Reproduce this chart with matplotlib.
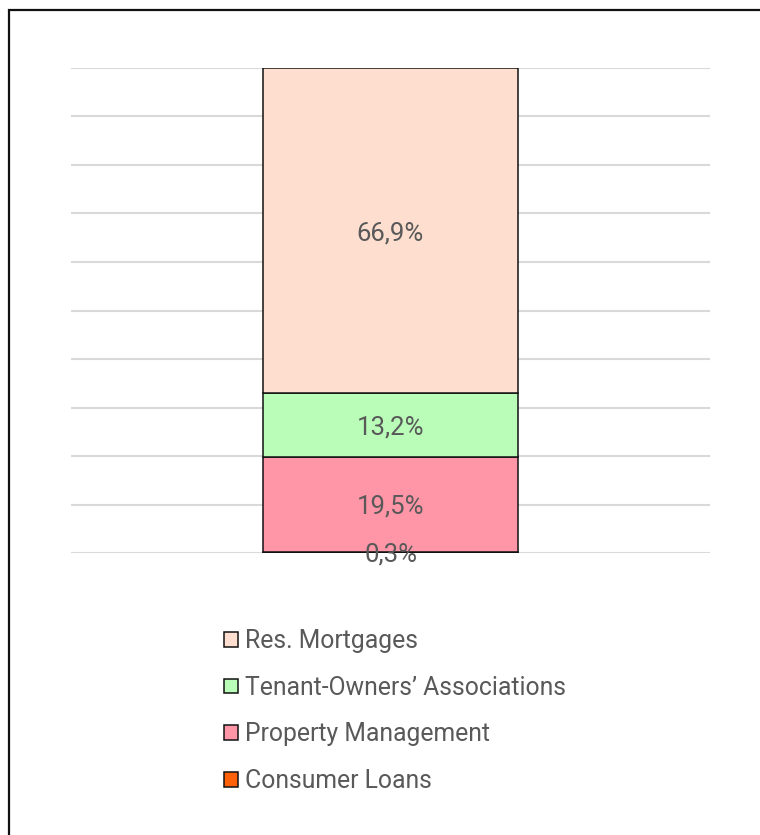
"""Stacked single-bar chart of loan portfolio composition."""

import matplotlib.pyplot as plt
from matplotlib.patches import Patch, Rectangle

plt.rcParams["font.family"] = ["Roboto", "DejaVu Sans"]

# data, bottom to top
segments = ["Consumer Loans", "Property Management", "Tenant-Owners\u2019 Associations", "Res. Mortgages"]
shares = [0.3, 19.5, 13.2, 66.9]
labels = ["0,3%", "19,5%", "13,2%", "66,9%"]
colors = ["#FF6108", "#FF96A8", "#B9FDB8", "#FEDFCF"]

TEXT_GREY = "#595959"

fig = plt.figure(figsize=(7.6, 8.35), dpi=100)
W, H = 760, 835

# outer frame, runs off the right and bottom edges
fig.patches.append(Rectangle((9 / W, -0.05), 1.2, 1 - 10 / H + 0.05, transform=fig.transFigure,
                             fill=False, edgecolor="#111111", linewidth=1.6))

ax = fig.add_axes([71 / W, 1 - 553 / H, (710 - 71) / W, (553 - 68) / H])

bottom = 0.0
for name, value, lab, col in zip(segments, shares, labels, colors):
    ax.bar(0, value, width=0.8, bottom=bottom, color=col, edgecolor="#111111", linewidth=1.1, zorder=3)
    ax.text(0, bottom + value / 2, lab, ha="center", va="center_baseline", fontsize=18.5,
            color=TEXT_GREY, zorder=4)
    bottom += value

ax.set_xlim(-1, 1)
ax.set_ylim(0, 100)
ax.set_yticks(range(0, 101, 10))
ax.yaxis.grid(True, color="#d9d9d9", linewidth=1.5, zorder=0)
ax.tick_params(left=False, bottom=False, labelleft=False, labelbottom=False)
for spine in ax.spines.values():
    spine.set_visible(False)

handles = [Patch(facecolor=c, edgecolor="#111111", linewidth=1.1) for c in colors[::-1]]
fig.legend(handles, segments[::-1], loc="upper left", bbox_to_anchor=(224 / W, 1 - 629 / H),
           frameon=False, fontsize=17.8, labelcolor=TEXT_GREY, handlelength=0.55, handleheight=0.55,
           handletextpad=0.3, labelspacing=0.92, borderpad=0, borderaxespad=0)

fig.savefig("out.png", dpi=100)
